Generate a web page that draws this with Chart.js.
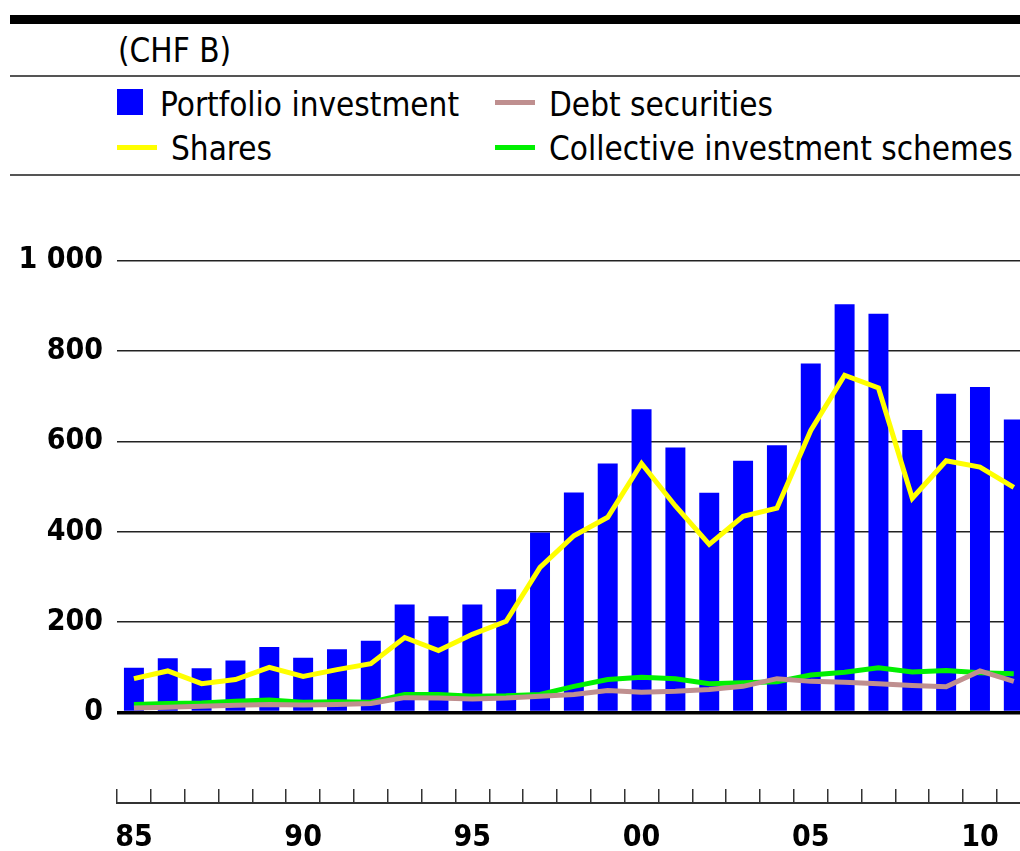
<!DOCTYPE html>
<html>
<head>
<meta charset="utf-8">
<script src="https://cdn.jsdelivr.net/npm/chart.js@4"></script>
<style>
  html, body { margin: 0; padding: 0; background: #fff; }
  body { width: 1020px; height: 851px; overflow: hidden; position: relative;
         font-family: "DejaVu Sans Condensed", "DejaVu Sans", sans-serif; font-stretch: condensed; color: #000; }
  .rule { position: absolute; left: 10px; width: 1010px; }
  .txt { position: absolute; font-size: 33px; line-height: 33px; white-space: nowrap; }
  .swatch { position: absolute; }
  #wrap { position: absolute; left: 0; top: 138px; width: 1045px; height: 713px; }
</style>
</head>
<body>
<div class="rule" style="top:15px;height:9px;background:#000;"></div>
<div class="txt" style="left:118px;top:34px;">(CHF B)</div>
<div class="rule" style="top:75px;height:2px;background:#555;"></div>

<div class="swatch" style="left:117px;top:89px;width:26px;height:26px;background:#0000ff;"></div>
<div class="txt" style="left:160px;top:88px;">Portfolio investment</div>
<div class="swatch" style="left:495px;top:100px;width:40px;height:5px;background:#bf8f8f;"></div>
<div class="txt" style="left:549px;top:88px;">Debt securities</div>
<div class="swatch" style="left:117px;top:145px;width:40px;height:5px;background:#ffff00;"></div>
<div class="txt" style="left:171px;top:132px;">Shares</div>
<div class="swatch" style="left:495px;top:145px;width:40px;height:5px;background:#00f000;"></div>
<div class="txt" style="left:549px;top:132px;">Collective investment schemes</div>
<div class="rule" style="top:174px;height:2px;background:#555;"></div>

<div id="wrap"><canvas id="chart" width="1045" height="713"></canvas></div>

<script>
// Years 1985-2011, CHF billions
const years = [1985,1986,1987,1988,1989,1990,1991,1992,1993,1994,1995,1996,1997,1998,
  1999,2000,2001,2002,2003,2004,2005,2006,2007,2008,2009,2010,2011];

const portfolio = [99,120,98,115,145,121,140,159,239,213,239,273,398,487,551,671,586,486,557,591,772,903,882,625,705,720,648];
const shares    = [75,92,64,73,100,80,95,108,166,137,173,202,321,391,432,551,457,372,434,452,624,746,718,474,557,543,498];
const debt      = [10,12,14,16,18,17,18,20,33,32,30,32,36,40,49,45,47,51,58,75,69,67,64,60,57,92,69];
const collective = [18,20,21,25,28,23,24,23,40,40,36,37,40,58,73,78,75,64,66,68,83,89,99,90,93,88,86];

const yTicks = [0, 200, 400, 600, 800, 1000];

const FONT = '"DejaVu Sans Condensed", "DejaVu Sans", sans-serif';

function fmt(v) {
  return String(v).replace(/\B(?=(\d{3})+(?!\d))/g, ' ');
}

const ctx = document.getElementById('chart').getContext('2d');

window.myChart = new Chart(ctx, {
  type: 'bar',
  data: {
    labels: years,
    datasets: [
      {
        label: 'Shares', type: 'line', data: shares, order: 0,
        borderColor: '#ffff00', borderWidth: 5, pointRadius: 0, tension: 0, fill: false
      },
      {
        label: 'Debt securities', type: 'line', data: debt, order: 1,
        borderColor: '#bf8f8f', borderWidth: 5, pointRadius: 0, tension: 0, fill: false
      },
      {
        label: 'Collective investment schemes', type: 'line', data: collective, order: 2,
        borderColor: '#00f000', borderWidth: 5, pointRadius: 0, tension: 0, fill: false
      },
      {
        label: 'Portfolio investment', type: 'bar', data: portfolio, order: 10,
        backgroundColor: '#0000ff', borderWidth: 0,
        barPercentage: 0.59, categoryPercentage: 1
      }
    ]
  },
  options: {
    responsive: false,
    animation: false,
    layout: { padding: { top: 12, right: 10, left: 0, bottom: 0 } },
    plugins: {
      legend: { display: false },
      tooltip: { enabled: false }
    },
    scales: {
      x: {
        offset: true,
        grid: {
          offset: true, drawOnChartArea: false, drawTicks: true,
          tickLength: -14, color: '#333', lineWidth: 1.5
        },
        border: { display: true, color: '#333', width: 2 },
        ticks: {
          autoSkip: false, maxRotation: 0, padding: 31,
          color: '#000', font: { family: FONT, size: 30, weight: 'bold' },
          callback: function(v, i) {
            const y = years[i];
            return y % 5 === 0 ? String(y).slice(2) : '';
          }
        },
        afterFit: function(scale) { scale.height = 48; }
      },
      y: {
        min: -200, max: 1200,
        afterBuildTicks: function(scale) {
          scale.ticks = [-200].concat(yTicks, [1200]).map(v => ({ value: v }));
        },
        grid: {
          drawTicks: false,
          color: c => (c.tick && yTicks.includes(c.tick.value)) ? (c.tick.value === 0 ? '#000' : '#222') : 'rgba(0,0,0,0)',
          lineWidth: c => (c.tick && c.tick.value === 0) ? 3.5 : 1.5
        },
        border: { display: false },
        ticks: {
          padding: 14, color: '#000',
          font: { family: FONT, size: 30, weight: 'bold' },
          callback: v => yTicks.includes(v) ? fmt(v) : ''
        },
        afterFit: function(scale) { scale.width = 117; }
      }
    }
  }
});
</script>
</body>
</html>
